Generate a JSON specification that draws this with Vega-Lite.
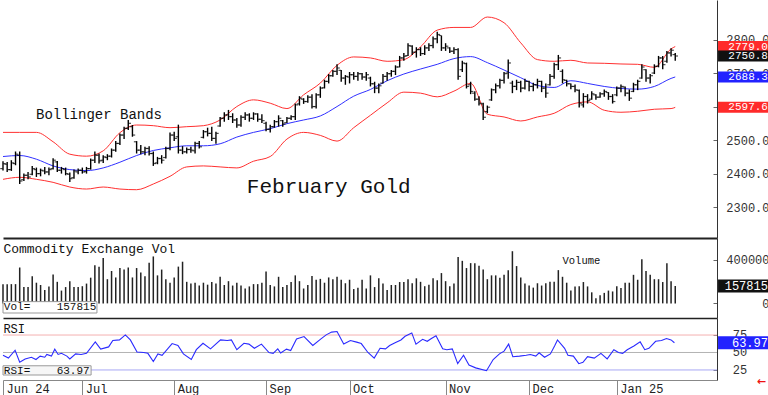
{
"$schema":"https://vega.github.io/schema/vega-lite/v6.json",
"padding":0,"spacing":0,"bounds":"flush","background":"white",
"config":{"view":{"stroke":null},"axis":{"grid":false,"labelFont":"Liberation Mono","labelFontSize":12,"labelColor":"#333","domainColor":"#333","tickColor":"#666","labelOverlap":false,"labelFlush":false,"labelBound":false},"text":{"font":"Liberation Mono"}},
"datasets":{
"bars":[
{"i":0,"o":2415,"h":2437,"l":2409,"c":2430,"v":176000},{"i":1,"o":2428,"h":2435,"l":2405,"c":2412,"v":176000},{"i":2,"o":2412,"h":2440,"l":2408,"c":2432,"v":176000},{"i":3,"o":2430,"h":2466,"l":2425,"c":2458,"v":176000},{"i":4,"o":2455,"h":2466,"l":2369,"c":2378,"v":328000},{"i":5,"o":2382,"h":2400,"l":2378,"c":2395,"v":149000},{"i":6,"o":2395,"h":2405,"l":2383,"c":2390,"v":149000},{"i":7,"o":2398,"h":2423,"l":2395,"c":2415,"v":248000},{"i":8,"o":2412,"h":2418,"l":2390,"c":2400,"v":189000},{"i":9,"o":2400,"h":2415,"l":2392,"c":2410,"v":168000},
{"i":10,"o":2408,"h":2420,"l":2398,"c":2405,"v":123000},{"i":11,"o":2405,"h":2418,"l":2395,"c":2412,"v":155000},{"i":12,"o":2415,"h":2446,"l":2412,"c":2440,"v":264000},{"i":13,"o":2435,"h":2438,"l":2405,"c":2410,"v":197000},{"i":14,"o":2410,"h":2420,"l":2400,"c":2415,"v":117000},{"i":15,"o":2412,"h":2418,"l":2395,"c":2400,"v":149000},{"i":16,"o":2398,"h":2403,"l":2375,"c":2385,"v":203000},{"i":17,"o":2388,"h":2412,"l":2385,"c":2408,"v":149000},{"i":18,"o":2405,"h":2415,"l":2398,"c":2410,"v":149000},{"i":19,"o":2410,"h":2418,"l":2400,"c":2405,"v":157000},
{"i":20,"o":2406,"h":2420,"l":2400,"c":2415,"v":181000},{"i":21,"o":2415,"h":2445,"l":2412,"c":2440,"v":235000},{"i":22,"o":2440,"h":2466,"l":2432,"c":2455,"v":349000},{"i":23,"o":2455,"h":2460,"l":2430,"c":2438,"v":336000},{"i":24,"o":2440,"h":2455,"l":2432,"c":2450,"v":416000},{"i":25,"o":2448,"h":2458,"l":2440,"c":2452,"v":221000},{"i":26,"o":2452,"h":2475,"l":2448,"c":2470,"v":296000},{"i":27,"o":2470,"h":2497,"l":2465,"c":2490,"v":237000},{"i":28,"o":2490,"h":2520,"l":2485,"c":2515,"v":323000},{"i":29,"o":2515,"h":2540,"l":2503,"c":2535,"v":309000},
{"i":30,"o":2535,"h":2560,"l":2530,"c":2550,"v":328000},{"i":31,"o":2540,"h":2545,"l":2510,"c":2515,"v":237000},{"i":32,"o":2495,"h":2497,"l":2460,"c":2470,"v":323000},{"i":33,"o":2470,"h":2485,"l":2458,"c":2465,"v":283000},{"i":34,"o":2465,"h":2480,"l":2455,"c":2475,"v":248000},{"i":35,"o":2475,"h":2482,"l":2454,"c":2460,"v":371000},{"i":36,"o":2460,"h":2466,"l":2423,"c":2430,"v":429000},{"i":37,"o":2432,"h":2450,"l":2428,"c":2445,"v":256000},{"i":38,"o":2445,"h":2455,"l":2430,"c":2440,"v":309000},{"i":39,"o":2448,"h":2480,"l":2445,"c":2475,"v":221000},
{"i":40,"o":2475,"h":2523,"l":2470,"c":2515,"v":189000},{"i":41,"o":2515,"h":2525,"l":2497,"c":2505,"v":237000},{"i":42,"o":2510,"h":2546,"l":2460,"c":2470,"v":336000},{"i":43,"o":2470,"h":2482,"l":2458,"c":2465,"v":381000},{"i":44,"o":2465,"h":2478,"l":2460,"c":2472,"v":197000},{"i":45,"o":2472,"h":2480,"l":2462,"c":2470,"v":181000},{"i":46,"o":2468,"h":2495,"l":2460,"c":2490,"v":189000},{"i":47,"o":2490,"h":2497,"l":2475,"c":2480,"v":163000},{"i":48,"o":2508,"h":2530,"l":2505,"c":2525,"v":189000},{"i":49,"o":2525,"h":2537,"l":2511,"c":2520,"v":171000},
{"i":50,"o":2520,"h":2540,"l":2497,"c":2505,"v":195000},{"i":51,"o":2505,"h":2525,"l":2489,"c":2520,"v":181000},{"i":52,"o":2542,"h":2569,"l":2540,"c":2565,"v":243000},{"i":53,"o":2565,"h":2583,"l":2555,"c":2575,"v":168000},{"i":54,"o":2575,"h":2590,"l":2560,"c":2570,"v":203000},{"i":55,"o":2570,"h":2580,"l":2551,"c":2560,"v":163000},{"i":56,"o":2560,"h":2566,"l":2537,"c":2545,"v":189000},{"i":57,"o":2545,"h":2574,"l":2540,"c":2568,"v":163000},{"i":58,"o":2568,"h":2583,"l":2560,"c":2575,"v":136000},{"i":59,"o":2575,"h":2580,"l":2555,"c":2565,"v":155000},
{"i":60,"o":2565,"h":2583,"l":2560,"c":2578,"v":176000},{"i":61,"o":2578,"h":2580,"l":2555,"c":2562,"v":176000},{"i":62,"o":2562,"h":2577,"l":2551,"c":2558,"v":189000},{"i":63,"o":2550,"h":2555,"l":2526,"c":2532,"v":291000},{"i":64,"o":2532,"h":2546,"l":2523,"c":2540,"v":168000},{"i":65,"o":2540,"h":2560,"l":2537,"c":2555,"v":155000},{"i":66,"o":2555,"h":2574,"l":2540,"c":2565,"v":243000},{"i":67,"o":2558,"h":2560,"l":2540,"c":2548,"v":149000},{"i":68,"o":2552,"h":2569,"l":2551,"c":2565,"v":168000},{"i":69,"o":2565,"h":2574,"l":2560,"c":2570,"v":195000},
{"i":70,"o":2570,"h":2609,"l":2560,"c":2605,"v":256000},{"i":71,"o":2608,"h":2631,"l":2603,"c":2625,"v":203000},{"i":72,"o":2622,"h":2625,"l":2608,"c":2615,"v":136000},{"i":73,"o":2615,"h":2634,"l":2611,"c":2628,"v":168000},{"i":74,"o":2628,"h":2637,"l":2594,"c":2600,"v":251000},{"i":75,"o":2600,"h":2640,"l":2594,"c":2635,"v":216000},{"i":76,"o":2635,"h":2660,"l":2626,"c":2655,"v":224000},{"i":77,"o":2656,"h":2680,"l":2654,"c":2675,"v":189000},{"i":78,"o":2675,"h":2697,"l":2669,"c":2692,"v":237000},{"i":79,"o":2692,"h":2709,"l":2689,"c":2705,"v":221000},
{"i":80,"o":2705,"h":2726,"l":2694,"c":2715,"v":243000},{"i":81,"o":2708,"h":2709,"l":2674,"c":2685,"v":216000},{"i":82,"o":2685,"h":2694,"l":2665,"c":2690,"v":184000},{"i":83,"o":2688,"h":2703,"l":2669,"c":2695,"v":216000},{"i":84,"o":2695,"h":2703,"l":2680,"c":2690,"v":131000},{"i":85,"o":2690,"h":2703,"l":2677,"c":2698,"v":144000},{"i":86,"o":2698,"h":2700,"l":2680,"c":2688,"v":216000},{"i":87,"o":2688,"h":2703,"l":2677,"c":2695,"v":136000},{"i":88,"o":2685,"h":2689,"l":2660,"c":2668,"v":256000},{"i":89,"o":2668,"h":2674,"l":2640,"c":2655,"v":149000},
{"i":90,"o":2655,"h":2669,"l":2640,"c":2662,"v":229000},{"i":91,"o":2670,"h":2697,"l":2669,"c":2690,"v":181000},{"i":92,"o":2690,"h":2703,"l":2677,"c":2698,"v":123000},{"i":93,"o":2698,"h":2709,"l":2689,"c":2705,"v":168000},{"i":94,"o":2705,"h":2723,"l":2694,"c":2718,"v":168000},{"i":95,"o":2718,"h":2751,"l":2717,"c":2745,"v":195000},{"i":96,"o":2745,"h":2760,"l":2737,"c":2750,"v":195000},{"i":97,"o":2752,"h":2789,"l":2751,"c":2782,"v":221000},{"i":98,"o":2780,"h":2783,"l":2754,"c":2762,"v":184000},{"i":99,"o":2762,"h":2777,"l":2746,"c":2770,"v":229000},
{"i":100,"o":2770,"h":2777,"l":2751,"c":2758,"v":197000},{"i":101,"o":2758,"h":2783,"l":2754,"c":2775,"v":157000},{"i":102,"o":2775,"h":2789,"l":2766,"c":2782,"v":171000},{"i":103,"o":2782,"h":2809,"l":2774,"c":2802,"v":229000},{"i":104,"o":2802,"h":2823,"l":2789,"c":2815,"v":211000},{"i":105,"o":2812,"h":2812,"l":2766,"c":2775,"v":277000},{"i":106,"o":2775,"h":2789,"l":2766,"c":2780,"v":203000},{"i":107,"o":2775,"h":2777,"l":2760,"c":2765,"v":157000},{"i":108,"o":2765,"h":2777,"l":2757,"c":2770,"v":181000},{"i":109,"o":2770,"h":2774,"l":2680,"c":2690,"v":424000},
{"i":110,"o":2710,"h":2737,"l":2703,"c":2730,"v":389000},{"i":111,"o":2728,"h":2731,"l":2654,"c":2660,"v":323000},{"i":112,"o":2665,"h":2674,"l":2637,"c":2645,"v":368000},{"i":113,"o":2640,"h":2646,"l":2617,"c":2622,"v":368000},{"i":114,"o":2622,"h":2631,"l":2603,"c":2610,"v":344000},{"i":115,"o":2608,"h":2611,"l":2560,"c":2568,"v":309000},{"i":116,"o":2585,"h":2603,"l":2580,"c":2598,"v":221000},{"i":117,"o":2620,"h":2654,"l":2617,"c":2650,"v":256000},{"i":118,"o":2650,"h":2669,"l":2640,"c":2662,"v":256000},{"i":119,"o":2662,"h":2683,"l":2654,"c":2678,"v":235000},
{"i":120,"o":2678,"h":2703,"l":2669,"c":2698,"v":261000},{"i":121,"o":2700,"h":2740,"l":2683,"c":2730,"v":304000},{"i":122,"o":2670,"h":2677,"l":2640,"c":2660,"v":477000},{"i":123,"o":2660,"h":2680,"l":2649,"c":2672,"v":341000},{"i":124,"o":2672,"h":2677,"l":2643,"c":2655,"v":237000},{"i":125,"o":2655,"h":2683,"l":2651,"c":2675,"v":181000},{"i":126,"o":2675,"h":2677,"l":2646,"c":2660,"v":163000},{"i":127,"o":2660,"h":2671,"l":2646,"c":2665,"v":144000},{"i":128,"o":2665,"h":2683,"l":2654,"c":2675,"v":184000},{"i":129,"o":2675,"h":2677,"l":2643,"c":2655,"v":163000},
{"i":130,"o":2655,"h":2669,"l":2626,"c":2640,"v":184000},{"i":131,"o":2665,"h":2697,"l":2663,"c":2690,"v":197000},{"i":132,"o":2690,"h":2731,"l":2683,"c":2725,"v":197000},{"i":133,"o":2725,"h":2754,"l":2709,"c":2745,"v":304000},{"i":134,"o":2705,"h":2711,"l":2669,"c":2680,"v":243000},{"i":135,"o":2678,"h":2680,"l":2660,"c":2668,"v":189000},{"i":136,"o":2668,"h":2669,"l":2652,"c":2660,"v":117000},{"i":137,"o":2660,"h":2666,"l":2643,"c":2650,"v":155000},{"i":138,"o":2648,"h":2651,"l":2597,"c":2610,"v":157000},{"i":139,"o":2605,"h":2640,"l":2597,"c":2630,"v":195000},
{"i":140,"o":2630,"h":2637,"l":2609,"c":2618,"v":155000},{"i":141,"o":2622,"h":2646,"l":2620,"c":2638,"v":101000},{"i":142,"o":2635,"h":2637,"l":2620,"c":2628,"v":48000},{"i":143,"o":2628,"h":2643,"l":2626,"c":2638,"v":75000},{"i":144,"o":2638,"h":2651,"l":2629,"c":2645,"v":96000},{"i":145,"o":2642,"h":2643,"l":2620,"c":2630,"v":117000},{"i":146,"o":2630,"h":2637,"l":2609,"c":2615,"v":109000},{"i":147,"o":2635,"h":2660,"l":2631,"c":2655,"v":157000},{"i":148,"o":2655,"h":2666,"l":2643,"c":2660,"v":141000},{"i":149,"o":2658,"h":2660,"l":2631,"c":2640,"v":189000},
{"i":150,"o":2640,"h":2651,"l":2617,"c":2625,"v":189000},{"i":151,"o":2645,"h":2671,"l":2643,"c":2665,"v":261000},{"i":152,"o":2665,"h":2680,"l":2649,"c":2675,"v":216000},{"i":153,"o":2685,"h":2726,"l":2683,"c":2718,"v":403000},{"i":154,"o":2710,"h":2711,"l":2674,"c":2685,"v":296000},{"i":155,"o":2685,"h":2697,"l":2669,"c":2692,"v":261000},{"i":156,"o":2700,"h":2726,"l":2697,"c":2720,"v":221000},{"i":157,"o":2720,"h":2751,"l":2717,"c":2745,"v":221000},{"i":158,"o":2745,"h":2751,"l":2711,"c":2725,"v":195000},{"i":159,"o":2735,"h":2766,"l":2731,"c":2760,"v":368000},
{"i":160,"o":2760,"h":2774,"l":2749,"c":2768,"v":203000},{"i":161,"o":2755,"h":2760,"l":2737,"c":2750.8,"v":157815}
],
"bands":[
{"i":0,"up":2523,"mid":2451,"lo":2383},{"i":4,"up":2523,"mid":2454,"lo":2389},{"i":8,"up":2523,"mid":2443,"lo":2383},{"i":12,"up":2495,"mid":2423,"lo":2374},{"i":16,"up":2458,"mid":2412,"lo":2360},{"i":20,"up":2452,"mid":2409,"lo":2354},{"i":24,"up":2468,"mid":2417,"lo":2360},{"i":28,"up":2522,"mid":2434,"lo":2354},{"i":32,"up":2545,"mid":2454,"lo":2352},{"i":36,"up":2543,"mid":2469,"lo":2369},
{"i":40,"up":2537,"mid":2477,"lo":2392},{"i":44,"up":2540,"mid":2483,"lo":2420},{"i":48,"up":2543,"mid":2483,"lo":2423},{"i":52,"up":2560,"mid":2489,"lo":2420},{"i":56,"up":2600,"mid":2509,"lo":2417},{"i":60,"up":2620,"mid":2523,"lo":2437},{"i":64,"up":2610,"mid":2534,"lo":2451},{"i":68,"up":2594,"mid":2549,"lo":2503},{"i":72,"up":2635,"mid":2560,"lo":2523},{"i":76,"up":2670,"mid":2572,"lo":2514},
{"i":80,"up":2723,"mid":2600,"lo":2497},{"i":84,"up":2748,"mid":2631,"lo":2537},{"i":88,"up":2745,"mid":2651,"lo":2574},{"i":92,"up":2735,"mid":2677,"lo":2611},{"i":96,"up":2740,"mid":2697,"lo":2643},{"i":100,"up":2778,"mid":2712,"lo":2640},{"i":104,"up":2828,"mid":2726,"lo":2629},{"i":108,"up":2836,"mid":2743,"lo":2646},{"i":112,"up":2836,"mid":2749,"lo":2669},{"i":116,"up":2867,"mid":2731,"lo":2577},
{"i":120,"up":2850,"mid":2709,"lo":2569},{"i":124,"up":2790,"mid":2686,"lo":2557},{"i":128,"up":2740,"mid":2663,"lo":2569},{"i":132,"up":2735,"mid":2657,"lo":2580},{"i":136,"up":2738,"mid":2677,"lo":2606},{"i":140,"up":2730,"mid":2669,"lo":2614},{"i":144,"up":2729,"mid":2660,"lo":2589},{"i":148,"up":2727,"mid":2654,"lo":2583},{"i":152,"up":2726,"mid":2652,"lo":2586},{"i":156,"up":2717,"mid":2660,"lo":2592},
{"i":160,"up":2772,"mid":2684,"lo":2594},{"i":161,"up":2779.0,"mid":2688.3,"lo":2597.6}
],
"rsi":[
{"i":0,"r":46},{"i":1.3,"r":42},{"i":2.9,"r":53.2},{"i":4,"r":36},{"i":5.3,"r":40.8},{"i":6.8,"r":43.2},{"i":7.9,"r":40},{"i":8.9,"r":44.8},{"i":10,"r":43.2},{"i":10.5,"r":47.2},{"i":11.6,"r":44.8},{"i":12.4,"r":54.8},{"i":13.2,"r":47.2},{"i":14,"r":48.8},{"i":15.3,"r":44.8},{"i":16,"r":40.8},{"i":17.4,"r":48},{"i":18.7,"r":47.2},{"i":20,"r":48.8},{"i":22.1,"r":65.2},{"i":23.4,"r":54.8},{"i":25.3,"r":58},{"i":26.3,"r":67.2},{"i":27.9,"r":68},{"i":29.3,"r":75.2},{"i":30.5,"r":68},{"i":32.1,"r":50.8},{"i":33.7,"r":50},{"i":34.7,"r":48.8},{"i":36,"r":37.2},{"i":37.1,"r":48},{"i":38.1,"r":46},{"i":40.5,"r":62.8},{"i":41.9,"r":60},{"i":43.2,"r":48},{"i":45.1,"r":40},{"i":46.3,"r":54},{"i":47.9,"r":63.2},{"i":49.7,"r":55.2},{"i":52.1,"r":68},{"i":53.7,"r":67.2},{"i":54.7,"r":68},{"i":56,"r":54},{"i":57.7,"r":63.2},{"i":58.9,"r":62},{"i":60.2,"r":56},{"i":61.9,"r":62},{"i":63.7,"r":50},{"i":64.7,"r":48.8},{"i":65.8,"r":55.2},{"i":66.5,"r":49.2},{"i":67.9,"r":54.8},{"i":68.9,"r":52.8},{"i":70.3,"r":69.2},{"i":72.1,"r":72.8},{"i":74.2,"r":60},{"i":76,"r":68.8},{"i":77.4,"r":75.2},{"i":78.7,"r":79.2},{"i":80,"r":80},{"i":81.6,"r":62},{"i":83.2,"r":67.2},{"i":84.7,"r":64.8},{"i":85.8,"r":62.8},{"i":87.4,"r":50},{"i":88.9,"r":42},{"i":90.3,"r":56},{"i":91.6,"r":55.2},{"i":92.6,"r":60},{"i":93.9,"r":64},{"i":95.3,"r":68},{"i":96.3,"r":73.2},{"i":97.9,"r":78},{"i":98.9,"r":62},{"i":100.5,"r":68.8},{"i":101.6,"r":66},{"i":102.6,"r":70},{"i":103.7,"r":74},{"i":105.3,"r":55.2},{"i":106.3,"r":54},{"i":107.6,"r":55.2},{"i":108.9,"r":34},{"i":110.3,"r":46},{"i":111.6,"r":32},{"i":113.2,"r":28},{"i":115.8,"r":24},{"i":117.4,"r":40},{"i":118.9,"r":48},{"i":120,"r":52},{"i":121.1,"r":62},{"i":122.1,"r":44},{"i":123.7,"r":44.8},{"i":125.3,"r":46},{"i":126.3,"r":47.2},{"i":127.6,"r":44.8},{"i":128.4,"r":49.6},{"i":129.7,"r":43.2},{"i":131.1,"r":48},{"i":132.1,"r":59.2},{"i":132.8,"r":68},{"i":134.5,"r":56},{"i":135.3,"r":46},{"i":136.6,"r":44.8},{"i":137.9,"r":34},{"i":138.9,"r":36},{"i":140,"r":44},{"i":141.6,"r":42},{"i":143.2,"r":48.8},{"i":144.7,"r":40.8},{"i":146.3,"r":54},{"i":147.4,"r":50},{"i":148.4,"r":48.8},{"i":149.5,"r":54},{"i":151.1,"r":59.2},{"i":152.6,"r":65.2},{"i":153.7,"r":54},{"i":154.7,"r":56},{"i":156.3,"r":66},{"i":157.7,"r":67.2},{"i":158.9,"r":70},{"i":160,"r":68},{"i":160.8,"r":63.97}
]
},
"vconcat":[
{
"width":714,"height":238,
"layer":[
{"data":{"name":"bands"},"mark":{"type":"line","color":"#ff3030","strokeWidth":1,"interpolate":"monotone"},
 "encoding":{
  "x":{"field":"i","type":"quantitative","title":null,"scale":{"domain":[0,171],"nice":false,"zero":false},"axis":{"orient":"bottom","labels":false,"ticks":false,"domainColor":"#222","domainWidth":2}},
  "y":{"field":"up","type":"quantitative","title":null,"scale":{"domain":[2222.9,2902.9],"nice":false,"zero":false},"axis":{"orient":"right","domain":true,"values":[2300,2400,2500,2600,2700,2800],"format":".1f","labelOverlap":false,"labelBound":false,"labelFlush":false,"tickSize":-4,"labelAlign":"right","labelBaseline":"middle","labelPadding":56}}}},
{"data":{"name":"bands"},"mark":{"type":"line","color":"#ff3030","strokeWidth":1,"interpolate":"monotone"},
 "encoding":{"x":{"field":"i","type":"quantitative","title":null},"y":{"field":"lo","type":"quantitative","title":null}}},
{"data":{"name":"bands"},"mark":{"type":"line","color":"#3030ff","strokeWidth":1,"interpolate":"monotone"},
 "encoding":{"x":{"field":"i","type":"quantitative","title":null},"y":{"field":"mid","type":"quantitative","title":null}}},
{"data":{"name":"bars"},"mark":{"type":"rule","color":"#000","strokeWidth":1.4},
 "encoding":{"x":{"field":"i","type":"quantitative","title":null},"y":{"field":"l","type":"quantitative","title":null},"y2":{"field":"h"}}},
{"data":{"name":"bars"},"mark":{"type":"tick","orient":"horizontal","color":"#000","size":2.5,"thickness":1.2,"xOffset":-1.5},
 "encoding":{"x":{"field":"i","type":"quantitative","title":null},"y":{"field":"o","type":"quantitative","title":null}}},
{"data":{"name":"bars"},"mark":{"type":"tick","orient":"horizontal","color":"#000","size":2.5,"thickness":1.2,"xOffset":1.5},
 "encoding":{"x":{"field":"i","type":"quantitative","title":null},"y":{"field":"c","type":"quantitative","title":null}}},
{"data":{"values":[{"t":"Bollinger Bands"}]},"mark":{"type":"text","align":"left","baseline":"middle","fontSize":14,"color":"#111"},
 "encoding":{"x":{"datum":7.9},"y":{"datum":2574},"text":{"field":"t"}}},
{"data":{"values":[{"t":"February Gold"}]},"mark":{"type":"text","align":"left","baseline":"middle","fontSize":21,"color":"#111"},
 "encoding":{"x":{"datum":58.4},"y":{"datum":2360},"text":{"field":"t"}}},
{"data":{"values":[{"s":"upper","v":2779.0,"t":"2779.0"},{"s":"lower","v":2597.6,"t":"2597.6"},{"s":"mid","v":2688.3,"t":"2688.3"},{"s":"close","v":2750.8,"t":"2750.8"}]},
 "mark":{"type":"bar","orient":"horizontal","height":11,"clip":false},
 "encoding":{"x":{"datum":171.25},"x2":{"datum":183.9},"y":{"field":"v","type":"quantitative","title":null},
  "color":{"field":"s","type":"nominal","legend":null,"scale":{"domain":["upper","lower","mid","close"],"range":["#ff2a2a","#ff2a2a","#2222ff","#111111"]}}}},
{"data":{"values":[{"s":"upper","v":2779.0,"t":"2779.0"},{"s":"lower","v":2597.6,"t":"2597.6"},{"s":"mid","v":2688.3,"t":"2688.3"},{"s":"close","v":2750.8,"t":"2750.8"}]},
 "mark":{"type":"text","align":"right","baseline":"middle","fontSize":11,"color":"#ffffff","clip":false},
 "encoding":{"x":{"datum":183.2},"y":{"field":"v","type":"quantitative","title":null},"text":{"field":"t"}}}
]
},
{
"width":714,"height":80,
"layer":[
{"data":{"name":"bars"},"mark":{"type":"rule","color":"#222","strokeWidth":1.5},
 "encoding":{
  "x":{"field":"i","type":"quantitative","title":null,"scale":{"domain":[0,171],"nice":false,"zero":false},"axis":{"orient":"bottom","labels":false,"ticks":false,"domainColor":"#222","domainWidth":1.5}},
  "y":{"field":"v","type":"quantitative","title":null,"scale":{"domain":[-88000,552000],"nice":false,"zero":false},"axis":{"orient":"right","domain":true,"values":[0,200000,400000],"format":"d","labelOverlap":false,"labelBound":false,"labelFlush":false,"tickSize":-4,"labelAlign":"right","labelBaseline":"middle","labelPadding":56}},
  "y2":{"datum":0}}},
{"data":{"values":[{"t":"Commodity Exchange Vol"}]},"mark":{"type":"text","align":"left","baseline":"middle","fontSize":13,"color":"#111"},
 "encoding":{"x":{"datum":0.1},"y":{"datum":496000},"text":{"field":"t"}}},
{"data":{"values":[{"t":"Volume"}]},"mark":{"type":"text","align":"left","baseline":"middle","fontSize":10.5,"color":"#111"},
 "encoding":{"x":{"datum":134},"y":{"datum":392000},"text":{"field":"t"}}},
{"data":{"values":[{"t":"box"}]},"mark":{"type":"rect","fill":"#ffffff","stroke":"#999","strokeWidth":1},
 "encoding":{"x":{"datum":0},"x2":{"datum":22.5},"y":{"datum":16000},"y2":{"datum":-88000}}},
{"data":{"values":[{"t":"Vol=\u00a0\u00a0\u00a0\u00a0157815"}]},"mark":{"type":"text","align":"left","baseline":"middle","fontSize":11,"color":"#111"},
 "encoding":{"x":{"datum":0.2},"y":{"datum":-36000},"text":{"field":"t"}}},
{"data":{"values":[{"v":157815,"t":"157815"}]},"mark":{"type":"bar","orient":"horizontal","height":13,"clip":false,"color":"#111"},
 "encoding":{"x":{"datum":171.25},"x2":{"datum":183.9},"y":{"field":"v","type":"quantitative","title":null}}},
{"data":{"values":[{"v":157815,"t":"157815"}]},"mark":{"type":"text","align":"right","baseline":"middle","fontSize":12,"color":"#ffffff","clip":false},
 "encoding":{"x":{"datum":183.2},"y":{"field":"v","type":"quantitative","title":null},"text":{"field":"t"}}}
]
},
{
"width":714,"height":62,
"layer":[
{"data":{"values":[{"g":75}]},"mark":{"type":"rule","color":"#f4b0b0","strokeWidth":1},
 "encoding":{"y":{"field":"g","type":"quantitative","title":null,"scale":{"domain":[17.8,92.2],"nice":false,"zero":false},"axis":{"orient":"right","domain":true,"values":[25,50,75],"labels":false,"tickSize":-4}}}},
{"data":{"values":[{"g":50}]},"mark":{"type":"rule","color":"#b4b4b4","strokeWidth":1},
 "encoding":{"y":{"field":"g","type":"quantitative","title":null}}},
{"data":{"values":[{"g":25}]},"mark":{"type":"rule","color":"#a8a8f4","strokeWidth":1},
 "encoding":{"y":{"field":"g","type":"quantitative","title":null}}},
{"data":{"values":[{"g":25,"t":"25"},{"g":50,"t":"50"},{"g":75,"t":"75"}]},"mark":{"type":"text","align":"left","baseline":"middle","fontSize":12,"color":"#333","clip":false},
 "encoding":{"x":{"datum":174.8},"y":{"field":"g","type":"quantitative","title":null},"text":{"field":"t"}}},
{"data":{"name":"rsi"},"mark":{"type":"line","color":"#2a2aff","strokeWidth":1.1},
 "encoding":{
  "x":{"field":"i","type":"quantitative","title":null,"scale":{"domain":[0,171],"nice":false,"zero":false},"axis":{"orient":"bottom","values":[0,19,41,63,83,106,126,147],"labelExpr":"datum.value===0?'Jun 24':datum.value===19?'Jul':datum.value===41?'Aug':datum.value===63?'Sep':datum.value===83?'Oct':datum.value===106?'Nov':datum.value===126?'Dec':'Jan 25'","labelOverlap":false,"tickSize":15,"tickColor":"#888","domainColor":"#888","labelAlign":"left","labelBaseline":"middle","labelPadding":-7,"labelOffset":3,"labelColor":"#222"}},
  "y":{"field":"r","type":"quantitative","title":null}}},
{"data":{"values":[{"t":"RSI"}]},"mark":{"type":"text","align":"left","baseline":"middle","fontSize":12,"color":"#111"},
 "encoding":{"x":{"datum":0.1},"y":{"datum":83},"text":{"field":"t"}}},
{"data":{"values":[{"t":"box"}]},"mark":{"type":"rect","fill":"#f6f6f6","stroke":"#999","strokeWidth":1},
 "encoding":{"x":{"datum":0},"x2":{"datum":21.1},"y":{"datum":31},"y2":{"datum":17.8}}},
{"data":{"values":[{"t":"RSI=\u00a0\u00a0\u00a0\u00a063.97"}]},"mark":{"type":"text","align":"left","baseline":"middle","fontSize":11,"color":"#111"},
 "encoding":{"x":{"datum":0.2},"y":{"datum":24},"text":{"field":"t"}}},
{"data":{"values":[{"v":63.97,"t":"63.97"}]},"mark":{"type":"bar","orient":"horizontal","height":13,"clip":false,"color":"#2222ff"},
 "encoding":{"x":{"datum":171.25},"x2":{"datum":183.9},"y":{"field":"v","type":"quantitative","title":null}}},
{"data":{"values":[{"v":63.97,"t":"63.97"}]},"mark":{"type":"text","align":"right","baseline":"middle","fontSize":12,"color":"#ffffff","clip":false},
 "encoding":{"x":{"datum":183.2},"y":{"field":"v","type":"quantitative","title":null},"text":{"field":"t"}}},
{"data":{"values":[{"t":"\u2190"}]},"mark":{"type":"text","align":"center","baseline":"middle","fontSize":11,"fontWeight":"bold","font":"DejaVu Sans","color":"#ee1111","clip":false},
 "encoding":{"x":{"datum":181.6},"y":{"datum":7.5},"text":{"field":"t"}}}
]
}
]
}
